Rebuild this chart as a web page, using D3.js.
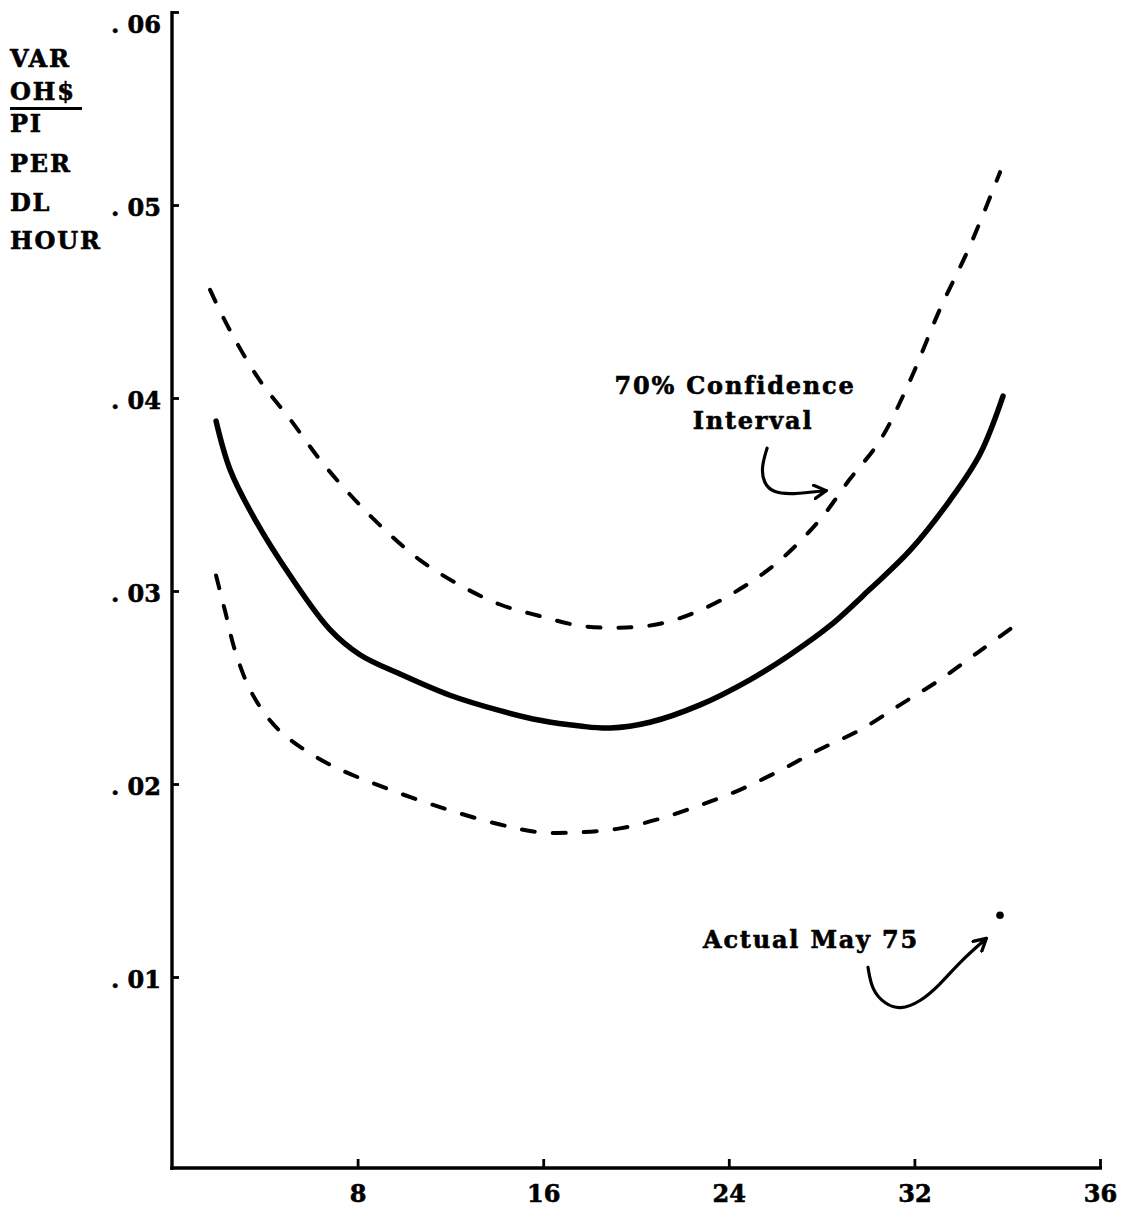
<!DOCTYPE html>
<html>
<head>
<meta charset="utf-8">
<script src="https://cdn.jsdelivr.net/npm/d3@7"></script>
<style>
  html, body { margin: 0; padding: 0; background: #fff; }
  svg { display: block; }
  text { font-family: "DejaVu Serif", "Liberation Serif", serif; font-weight: bold; fill: #000; stroke: #000; stroke-width: 0.6px; }
</style>
</head>
<body>
<svg id="chart" width="1138" height="1217"></svg>
<script>
// Forecast of variable overhead per direct-labour hour, by period
const fitX   = [1.90, 2.50, 3.58, 5.09, 6.81, 8.10, 9.83, 11.98, 14.14, 15.86, 17.59, 18.88, 20.60, 22.76, 24.91, 26.64, 28.36, 30.09, 31.81, 33.53, 34.83, 35.82];
const fitY   = [0.0388, 0.0363, 0.0337, 0.0308, 0.0280, 0.0267, 0.0257, 0.0246, 0.0238, 0.0233, 0.0230, 0.0229, 0.0232, 0.0241, 0.0254, 0.0267, 0.0282, 0.0301, 0.0321, 0.0347, 0.0371, 0.0401];

// 70% confidence band
const upperX = [1.64, 2.50, 3.79, 5.09, 6.38, 7.67, 8.97, 10.69, 12.41, 14.14, 15.86, 17.59, 19.31, 21.03, 22.76, 24.48, 26.21, 27.93, 29.22, 30.52, 31.81, 33.10, 34.40, 35.69];
const upperY = [0.0456, 0.0435, 0.0409, 0.0389, 0.0368, 0.0350, 0.0334, 0.0316, 0.0303, 0.0293, 0.0287, 0.0282, 0.0281, 0.0283, 0.0290, 0.0301, 0.0316, 0.0337, 0.0358, 0.0378, 0.0409, 0.0446, 0.0479, 0.0517];
const lowerX = [1.90, 2.28, 2.72, 3.36, 4.22, 5.09, 6.81, 8.97, 11.55, 14.14, 15.86, 17.59, 19.31, 21.03, 22.76, 24.48, 26.21, 27.93, 29.66, 31.38, 33.10, 34.83, 36.21];
const lowerY = [0.0308, 0.0290, 0.0269, 0.0249, 0.0233, 0.0223, 0.0210, 0.0199, 0.0188, 0.0179, 0.0175, 0.0175, 0.0177, 0.0182, 0.0189, 0.0197, 0.0207, 0.0218, 0.0228, 0.0241, 0.0254, 0.0269, 0.0281];

// Actual observation, May 75
const actualX = [35.69];
const actualY = [0.0132];

// Axis ticks
const xTickValues = [8, 16, 24, 32, 40];
const xTickLabels = ["8", "16", "24", "32", "36"];
const yTickValues = [0.01, 0.02, 0.03, 0.04, 0.05, 0.06];
const yTickLabels = [". 01", ". 02", ". 03", ". 04", ". 05", ". 06"];
const yTitleLines = ["VAR", "OH$", "PI", "PER", "DL", "HOUR"];

// Hand-drawn annotation arrows (data units)
const confArrowX = [25.65, 25.40, 25.50, 25.90, 26.70, 28.20];
const confArrowY = [0.0374, 0.0364, 0.0356, 0.0351, 0.0350, 0.0352];
const mayArrowX  = [30.00, 30.17, 30.73, 31.38, 32.24, 33.10, 33.97, 35.10];
const mayArrowY  = [0.0105, 0.0093, 0.0086, 0.0083, 0.0087, 0.0096, 0.0108, 0.0120];

const svg = d3.select("#chart");

const x = d3.scaleLinear().domain([0, 40]).range([172, 1100]);
const y = d3.scaleLinear().domain([0, 0.06]).range([1170, 12]);

const zip = (xs, ys) => xs.map((v, i) => [v, ys[i]]);

const FONT = 24;
const SPACING = 1.8;

// Y axis: ticks point inward, labels on the left
const yAxis = d3.axisLeft(y)
  .tickValues(yTickValues)
  .tickFormat((d, i) => yTickLabels[i])
  .tickSizeInner(-7)
  .tickSizeOuter(0)
  .tickPadding(11);

const gy = svg.append("g").attr("transform", `translate(${x(0)},0)`).call(yAxis);
gy.select(".domain").attr("stroke", "#000").attr("stroke-width", 3.4)
  .attr("d", `M0,${y(0.06) - 1}V${y(0)}`);
gy.selectAll(".tick line").attr("stroke", "#000").attr("stroke-width", 2.8);
gy.selectAll(".tick text")
  .attr("font-size", FONT)
  .attr("font-family", "DejaVu Serif")
  .attr("font-weight", "bold")
  .attr("fill", "#000")
  .attr("dy", d => d === 0.06 ? "0.85em" : "0.45em");

// X axis: ticks point up, labels below
const xAxis = d3.axisBottom(x)
  .tickValues(xTickValues)
  .tickFormat((d, i) => xTickLabels[i])
  .tickSizeInner(-9)
  .tickSizeOuter(0)
  .tickPadding(17);

const gx = svg.append("g").attr("transform", `translate(0,${y(0) - 2})`).call(xAxis);
gx.select(".domain").attr("stroke", "#000").attr("stroke-width", 3.4)
  .attr("d", `M${x(0) - 1.7},0H${x(40) + 2}`);
gx.selectAll(".tick line").attr("stroke", "#000").attr("stroke-width", 2.8);
gx.selectAll(".tick text")
  .attr("font-size", FONT)
  .attr("font-family", "DejaVu Serif")
  .attr("font-weight", "bold")
  .attr("fill", "#000")
  .attr("dy", "0.71em");

// Stacked y-axis title
const titleBaselines = [67, 100, 132, 172, 211, 249];
const titleG = svg.append("g");
titleG.selectAll("text").data(yTitleLines).join("text")
  .attr("x", 10)
  .attr("y", (d, i) => titleBaselines[i])
  .attr("font-size", FONT)
  .attr("letter-spacing", SPACING)
  .text(d => d);
titleG.append("line")
  .attr("x1", 10).attr("x2", 82)
  .attr("y1", 108.5).attr("y2", 108.5)
  .attr("stroke", "#000").attr("stroke-width", 2.8);

const line = d3.line()
  .x(d => x(d[0]))
  .y(d => y(d[1]))
  .curve(d3.curveCatmullRom.alpha(0.5));

// Confidence band (dashed)
[zip(upperX, upperY), zip(lowerX, lowerY)].forEach(pts => {
  svg.append("path")
    .datum(pts)
    .attr("d", line)
    .attr("fill", "none")
    .attr("stroke", "#000")
    .attr("stroke-width", 4)
    .attr("stroke-linecap", "round")
    .attr("stroke-dasharray", "13,18");
});

// Fitted curve (solid)
svg.append("path")
  .datum(zip(fitX, fitY))
  .attr("d", line)
  .attr("fill", "none")
  .attr("stroke", "#000")
  .attr("stroke-width", 5.5)
  .attr("stroke-linecap", "round");

// Actual point
svg.selectAll(".actual").data(zip(actualX, actualY)).join("circle")
  .attr("class", "actual")
  .attr("cx", d => x(d[0]))
  .attr("cy", d => y(d[1]))
  .attr("r", 3.8)
  .attr("fill", "#000");

// Arrow heads
const defs = svg.append("defs");
defs.append("marker")
  .attr("id", "arrow")
  .attr("viewBox", "0 0 12 12")
  .attr("refX", 10).attr("refY", 6)
  .attr("markerWidth", 5).attr("markerHeight", 5)
  .attr("markerUnits", "strokeWidth")
  .attr("orient", "auto")
  .append("path")
  .attr("d", "M1,1 L10,6 L1,11")
  .attr("fill", "none")
  .attr("stroke", "#000")
  .attr("stroke-width", 2.4)
  .attr("stroke-linejoin", "round")
  .attr("stroke-linecap", "round");

const arrowLine = d3.line()
  .x(d => x(d[0]))
  .y(d => y(d[1]))
  .curve(d3.curveBasis);

[zip(confArrowX, confArrowY), zip(mayArrowX, mayArrowY)].forEach(pts => {
  svg.append("path")
    .datum(pts)
    .attr("d", arrowLine)
    .attr("fill", "none")
    .attr("stroke", "#000")
    .attr("stroke-width", 3.2)
    .attr("stroke-linecap", "round")
    .attr("marker-end", "url(#arrow)");
});

// Annotation labels
const notes = [
  { text: "70% Confidence", cx: 735, baseline: 394 },
  { text: "Interval",       cx: 753, baseline: 429 },
  { text: "Actual May 75",  cx: 811, baseline: 948 }
];
svg.selectAll(".note").data(notes).join("text")
  .attr("class", "note")
  .attr("x", d => d.cx)
  .attr("y", d => d.baseline)
  .attr("text-anchor", "middle")
  .attr("font-size", FONT)
  .attr("letter-spacing", SPACING)
  .text(d => d.text);
</script>
</body>
</html>
